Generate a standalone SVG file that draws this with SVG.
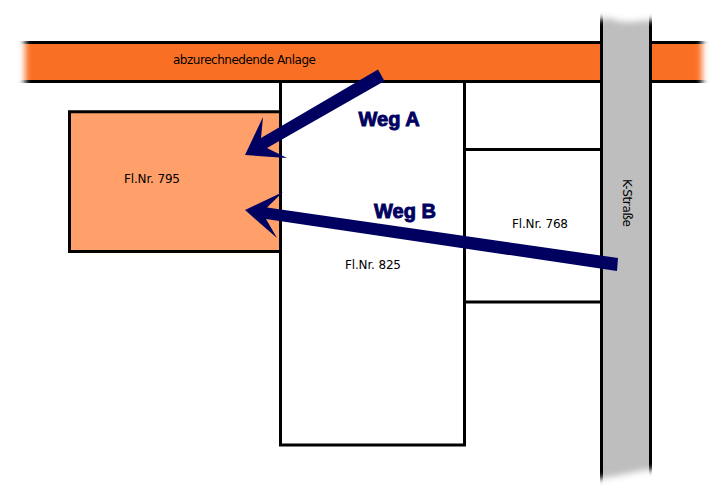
<svg xmlns="http://www.w3.org/2000/svg" width="715" height="491" viewBox="0 0 715 491">
<style>
.plot{fill:#fff;stroke:#000;stroke-width:3}
.line{fill:none;stroke:#000;stroke-width:3}
.lbl{font-family:"DejaVu Sans",Verdana,sans-serif;font-size:12px;fill:#000}
.weg{font-family:"Liberation Sans",Arial,sans-serif;font-size:20px;font-weight:700;fill:#000060;stroke:#000060;stroke-width:.9px}
.way{fill:#000060}
.fade{fill:#fff;filter:url(#b)}
</style>
<defs><filter id="b" x="-50%" y="-50%" width="200%" height="200%"><feGaussianBlur stdDeviation="3"/></filter></defs>
<rect width="715" height="491" fill="#fff"/>
<g id="anlage">
<rect x="0" y="42.500" width="715" height="39" fill="#f97025" stroke="#000" stroke-width="3"/>
<text class="lbl" x="173" y="64" textLength="143">abzurechnedende Anlage</text>
</g>
<g id="fl795">
<rect x="69.500" y="111.750" width="211" height="139.750" fill="#ff9f69" stroke="#000" stroke-width="3"/>
<text class="lbl" x="124" y="183" textLength="56">Fl.Nr. 795</text>
</g>
<g id="fl825">
<rect class="plot" x="280.500" y="81.500" width="184" height="363.500"/>
<text class="lbl" x="345" y="269" textLength="56">Fl.Nr. 825</text>
</g>
<g id="fl768">
<path class="line" d="M465 149.500H601M465 302H601"/>
<text class="lbl" x="512" y="228" textLength="56">Fl.Nr. 768</text>
</g>
<g id="kstrasse">
<rect x="601.500" y="0" width="49" height="491" fill="#bebebe"/>
<path class="line" d="M601.500 0V491M650.500 0V491"/>
<text class="lbl" transform="translate(623,179) rotate(90)" textLength="48">K-Straße</text>
</g>
<g id="fades">
<rect class="fade" x="-20" y="30" width="45" height="64"/>
<rect class="fade" x="702" y="30" width="40" height="64"/>
<path class="fade" d="M580-20H670V19L640 21Q620 24 610 18L580 22Z"/>
<path class="fade" d="M580 512H670V467L640 471Q620 475 610 477L580 481Z"/>
</g>
<g id="connectors">
<path class="way" d="M378 69.500L384.500 81L267 148L287 158L245 155L263 117L261 138Z"/>
<path class="way" d="M618 258L617 271L266 219L277 238L245 210L283 192L267 207.500Z"/>
</g>
<g id="labels">
<text class="weg" x="358.500" y="126">Weg A</text>
<text class="weg" x="374" y="218">Weg B</text>
</g>
</svg>
